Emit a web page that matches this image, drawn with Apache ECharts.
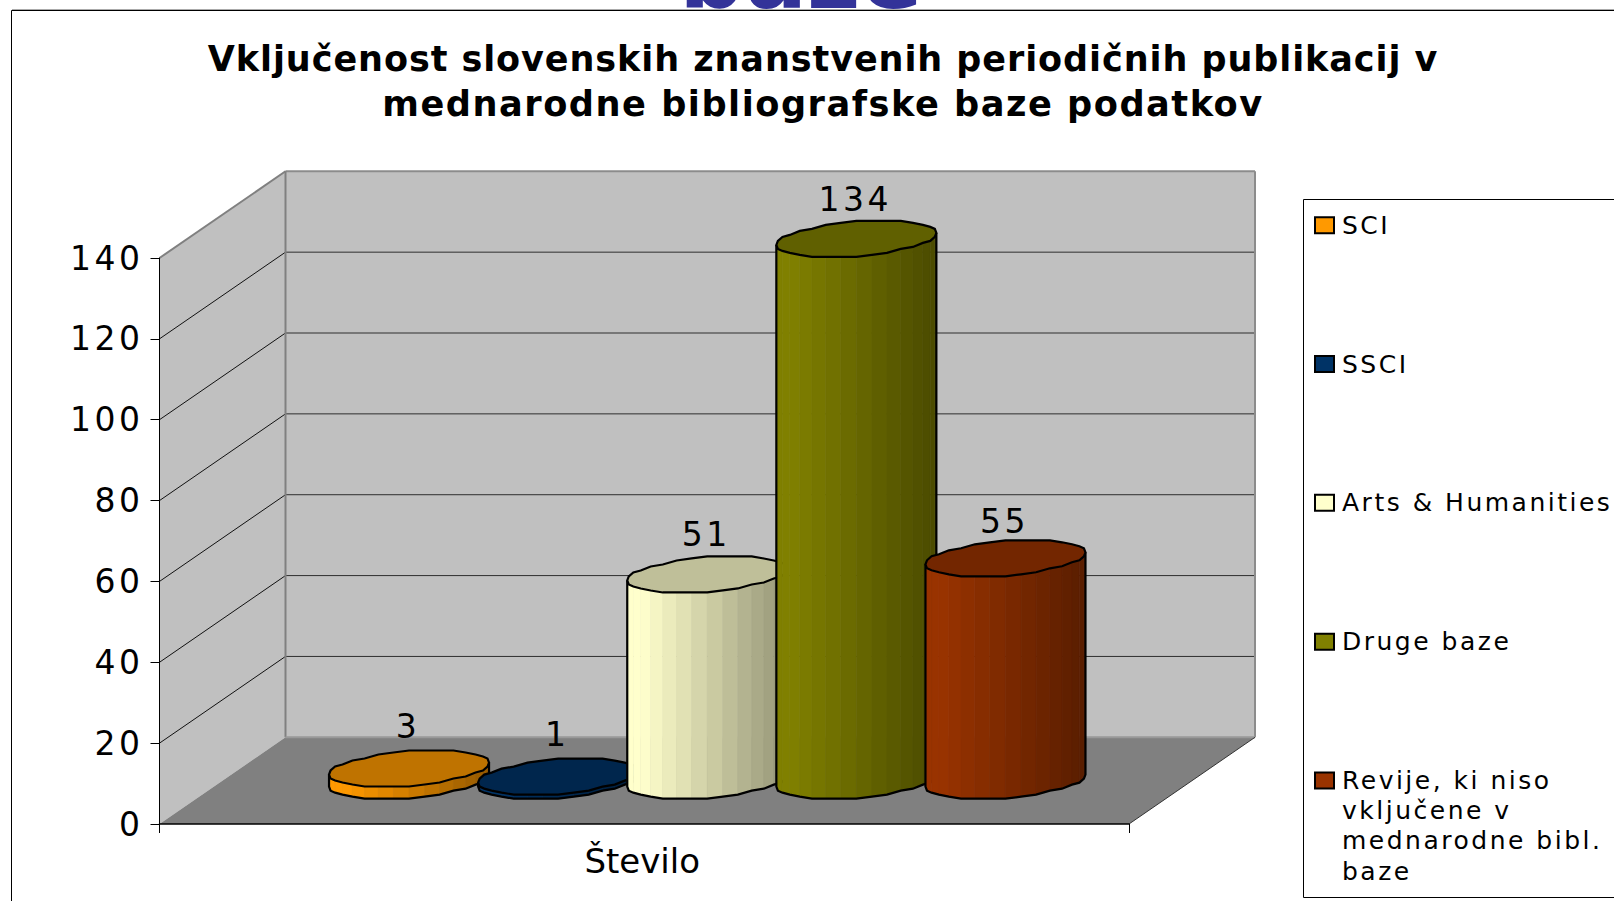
<!DOCTYPE html>
<html><head><meta charset="utf-8">
<style>
html,body{margin:0;padding:0;background:#fff;overflow:hidden}
#c{width:1614px;height:901px}
text[style*="33px"]{letter-spacing:3.5px}
text[style*="25px"]{letter-spacing:2.5px}
text[style*="35px"]{letter-spacing:0.93px}
text[style*="35.2px"]{letter-spacing:1.5px}
</style>
<script src="https://cdn.jsdelivr.net/npm/echarts@6/dist/echarts.min.js"></script>
</head><body><div id="c"></div>
<script>
const titleLines = ['Vključenost slovenskih znanstvenih periodičnih publikacij v','mednarodne bibliografske baze podatkov'];
const categories = ['Število'];
const seriesNames = ['SCI','SSCI','Arts & Humanities','Druge baze','Revije, ki niso\nvključene v\nmednarodne bibl.\nbaze'];
const seriesValues = [3,1,51,134,55];
const seriesColors = ['#FF9900','#003366','#FFFFCC','#808000','#993300'];
const yMin = 0, yMax = 140, yStep = 20;
const FONT = '"DejaVu Sans"';
// oblique projection of the 3D box
const depthX = 126, depthY = 86.7;
const radA = 75.6, radDx = 26.2, radDy = 18, slot = 0.1538, N = 16, snap = 2;
const labelLift = [42,42,40,39,37];

function shade(hex,f){
  const n=parseInt(hex.slice(1),16);
  const c=[n>>16&255,n>>8&255,n&255].map(v=>Math.round(v*f));
  return 'rgb('+c.join(',')+')';
}
function renderWalls(params,api){
  const g=params.coordSys, L=g.x, R=g.x+g.width, T=g.y, B=g.y+g.height;
  const kids=[];
  const poly=(points,fill)=>kids.push({type:'polygon',shape:{points},style:{fill,stroke:'none'}});
  const line=(x1,y1,x2,y2,stroke,w)=>kids.push({type:'line',shape:{x1,y1,x2,y2},style:{stroke,lineWidth:w||1}});
  poly([[L+depthX,T-depthY],[R+depthX,T-depthY],[R+depthX,B-depthY],[L+depthX,B-depthY]],'#C0C0C0');
  poly([[L,T],[L+depthX,T-depthY],[L+depthX,B-depthY],[L,B]],'#C0C0C0');
  poly([[L,B],[L+depthX,B-depthY],[R+depthX,B-depthY],[R,B]],'#808080');
  for(let v=yMin+yStep;v<yMax;v+=yStep){
    const y=api.coord([0,v])[1];
    line(L,y,L+depthX,y-depthY,'#111',1);
    line(L+depthX,y-depthY,R+depthX,y-depthY,'#2e2e2e',1);
  }
  line(L,T,L+depthX,T-depthY,'#808080',2);
  line(L+depthX,T-depthY,R+depthX,T-depthY,'#8c8c8c',2);
  line(L+depthX,T-depthY,L+depthX,B-depthY,'#808080',2);
  line(R+depthX,T-depthY,R+depthX,B-depthY,'#8c8c8c',2);
  line(L+depthX,B-depthY,R+depthX,B-depthY,'#999',2);
  line(R,B,R+depthX,B-depthY,'#333',1);
  return {type:'group',children:kids};
}
function makeCylinder(k){
  return function(params,api){
    const base=api.coord([api.value(0),0]);
    const topY=api.coord([api.value(0),api.value(1)])[1];
    const band=api.size([1,0])[0];
    const cx=base[0]+depthX/2+band*slot*(k-2);
    const cyB=base[1]-depthY/2;
    const h=base[1]-topY;
    const color=seriesColors[k];
    const t0=Math.atan2(radDx,radA);
    const R=Math.hypot(radA,radDx);
    // ring vertices are snapped to a coarse step, which gives the faceted rim of the original
    const pt=(t,lift)=>[cx+radA*Math.cos(t)+radDx*Math.sin(t),cyB-lift-Math.round(radDy*Math.sin(t)/snap)*snap];
    const kids=[];
    const front=[];
    for(let i=0;i<=N;i++) front.push(t0+Math.PI+i*Math.PI/N);
    for(let i=0;i<N;i++){
      const a=pt(front[i],0),b=pt(front[i+1],0);
      const frac=((a[0]+b[0])/2-(cx-R))/(2*R);
      const f=frac<0.1?1:1-0.42*(frac-0.1)/0.9;
      const col=shade(color,f);
      kids.push({type:'polygon',shape:{points:[a,b,[b[0],b[1]-h],[a[0],a[1]-h]]},style:{fill:col,stroke:col,lineWidth:0.6}});
    }
    const outline=[pt(front[0],h)];
    front.forEach(t=>outline.push(pt(t,0)));
    outline.push(pt(front[N],h));
    kids.push({type:'polyline',shape:{points:outline},style:{fill:'none',stroke:'#000',lineWidth:2.2}});
    const topPts=[];
    for(let i=0;i<2*N;i++) topPts.push(pt(t0+i*Math.PI/N,h));
    kids.push({type:'polygon',shape:{points:topPts},style:{fill:shade(color,0.75),stroke:'#000',lineWidth:2.2}});
    kids.push({type:'text',style:{text:String(api.value(1)),x:cx-1,y:cyB-h-labelLift[k],fill:'#000',font:'33px '+FONT,textAlign:'center',textVerticalAlign:'middle'}});
    return {type:'group',children:kids};
  };
}
const series=[{type:'custom',name:'__walls',data:[[0,0]],encode:{x:0,y:1},clip:false,silent:true,renderItem:renderWalls,z:1}];
seriesNames.forEach((name,k)=>series.push({
  type:'custom',name,data:[[0,seriesValues[k]]],encode:{x:0,y:1},clip:false,silent:true,
  itemStyle:{color:seriesColors[k]},renderItem:makeCylinder(k),z:2
}));
const lastLines=seriesNames[4].split('\n');
const chart=echarts.init(document.getElementById('c'),null,{renderer:'svg',width:1614,height:901});
chart.setOption({
  animation:false,
  backgroundColor:'#fff',
  title:{text:titleLines[0],subtext:titleLines[1],left:823,top:37,textAlign:'center',itemGap:0,padding:0,
    textStyle:{fontFamily:FONT,fontWeight:'bold',fontSize:35,lineHeight:44,color:'#000'},
    subtextStyle:{fontFamily:FONT,fontWeight:'bold',fontSize:35.2,lineHeight:44,color:'#000'}},
  grid:{left:159.5,top:258,width:969.5,height:566,containLabel:false},
  xAxis:{type:'category',data:categories,z:3,
    axisLine:{lineStyle:{color:'#000',width:1.5}},axisTick:{show:true,length:9,lineStyle:{color:'#000'}},
    axisLabel:{fontFamily:FONT,fontSize:34,color:'#000',margin:20,padding:[0,4,0,0]},splitLine:{show:false}},
  yAxis:{type:'value',min:yMin,max:yMax,interval:yStep,z:3,
    axisLine:{show:true,lineStyle:{color:'#000'}},axisTick:{show:true,length:9,lineStyle:{color:'#000'}},
    axisLabel:{fontFamily:FONT,fontSize:33,color:'#000',margin:16,padding:[3,0,0,0]},splitLine:{show:false}},
  legend:{orient:'vertical',left:1314,top:210,itemWidth:19,itemHeight:16,itemGap:108.3,padding:0,selectedMode:false,
    icon:'rect',itemStyle:{borderColor:'#000',borderWidth:2},
    formatter:n=>n.split('\n')[0],
    textStyle:{fontFamily:FONT,fontSize:25,color:'#000',lineHeight:30.5,padding:[0,0,0,3]},
    data:seriesNames},
  graphic:[
    {type:'text',z:0,silent:true,style:{text:'baze',x:801,y:-24,fill:'#333399',font:'bold 92px '+FONT,textAlign:'center',textVerticalAlign:'middle'}},
    {type:'line',z:1,silent:true,shape:{x1:12,y1:9.5,x2:1614,y2:9.5},style:{stroke:'#aaa',lineWidth:1}},
    {type:'rect',z:1,silent:true,shape:{x:11.5,y:10.5,width:1800,height:1100},style:{fill:'#fff',stroke:'#000',lineWidth:1}},
    {type:'rect',z:1,silent:true,shape:{x:1303.5,y:199.5,width:400,height:698},style:{fill:'#fff',stroke:'#000',lineWidth:1}},
    {type:'text',z:5,silent:true,style:{text:lastLines.slice(1).join('\n'),x:1342,y:795,fill:'#000',font:'25px '+FONT,lineHeight:30.5,textAlign:'left',textVerticalAlign:'top'}}
  ],
  series
});
</script></body></html>
